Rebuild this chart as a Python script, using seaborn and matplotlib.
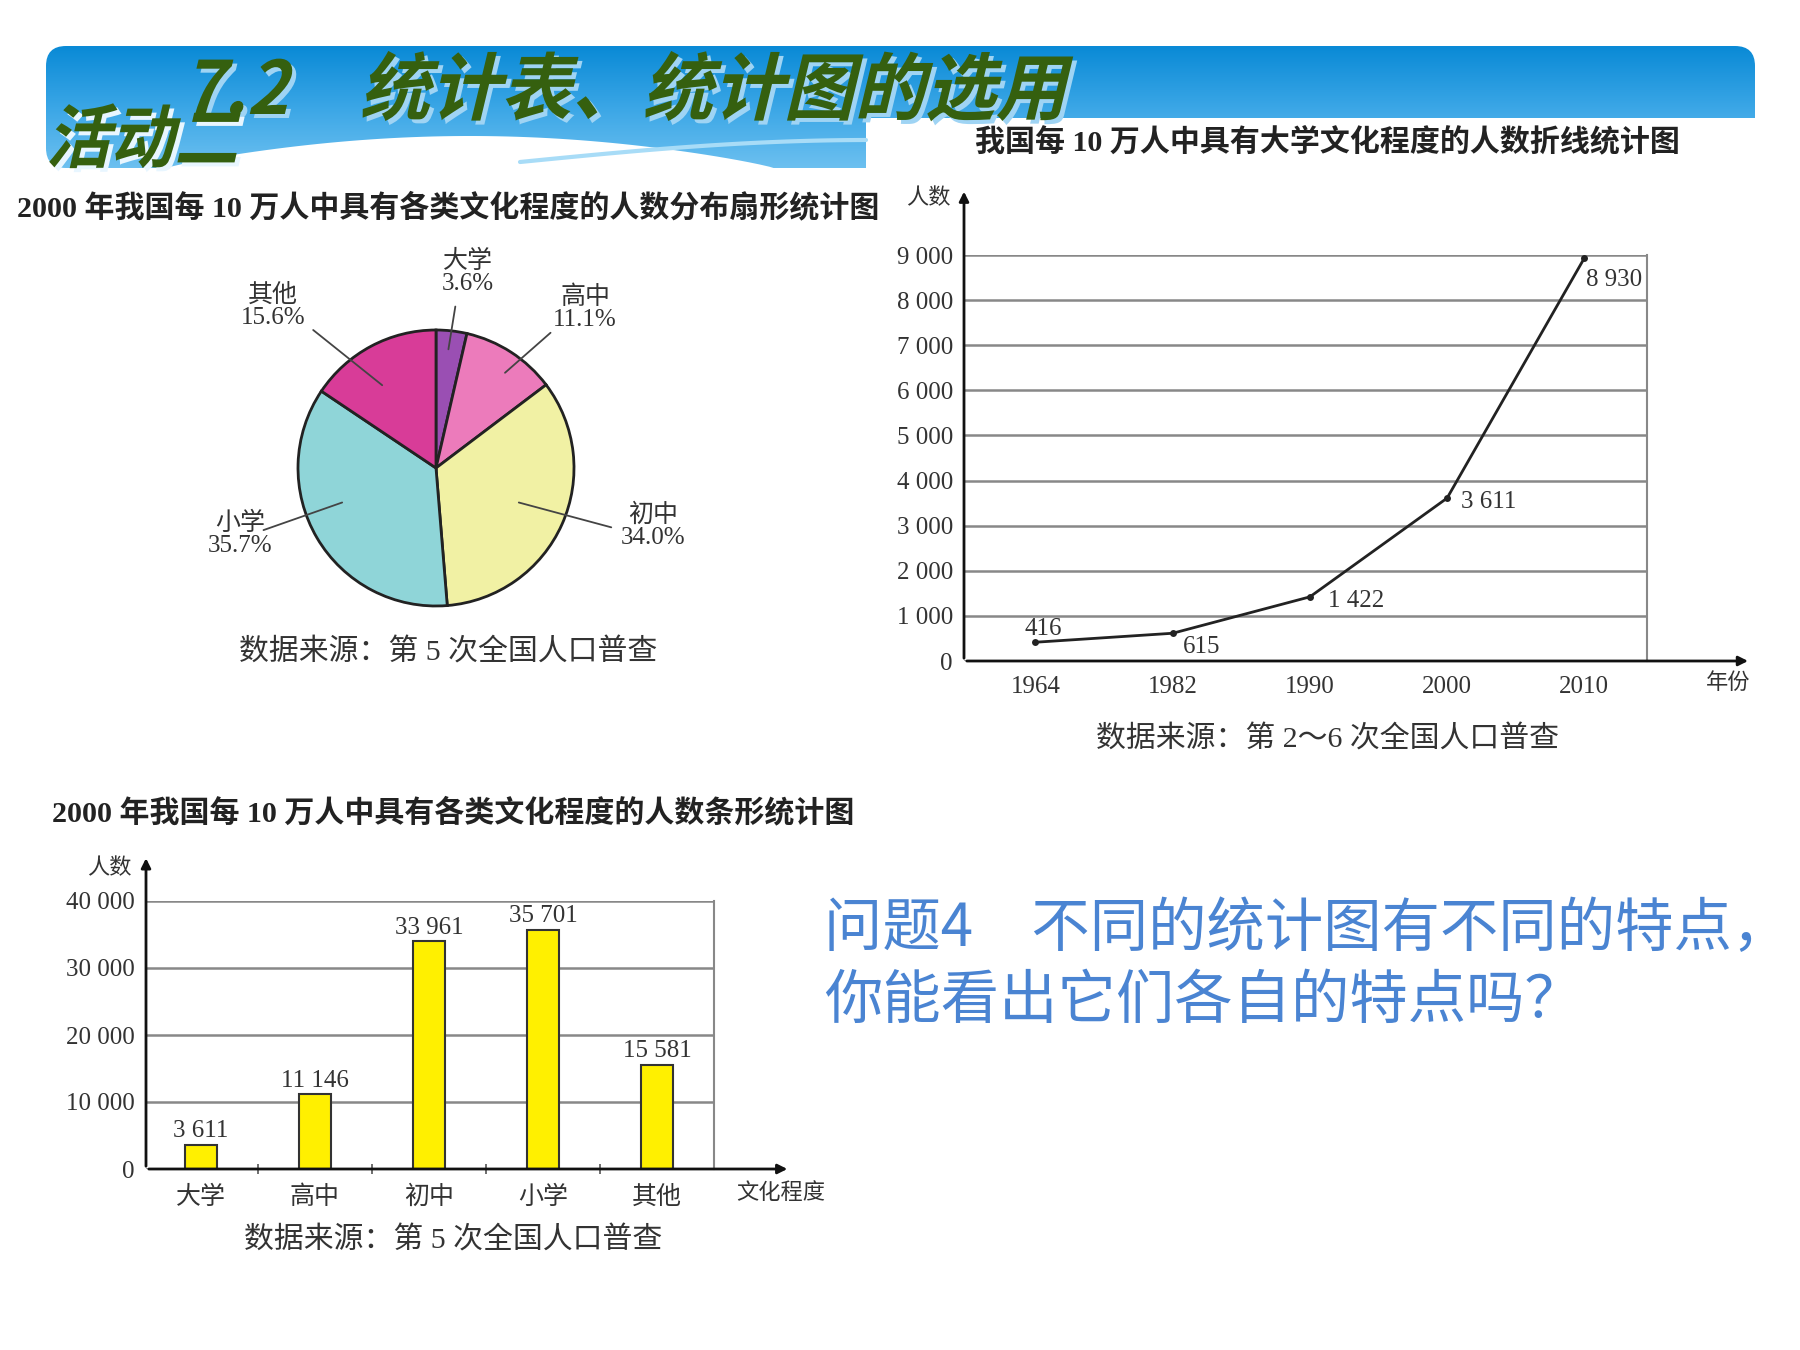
import numpy as np
import matplotlib
matplotlib.use("Agg")
import matplotlib.pyplot as plt
import seaborn as sns
from matplotlib.patches import FancyBboxPatch, Rectangle, Polygon, PathPatch
from matplotlib.textpath import TextPath
from matplotlib.font_manager import FontProperties
from matplotlib.transforms import Affine2D
from matplotlib.ticker import FuncFormatter
from matplotlib.colors import LinearSegmentedColormap

# pie: share of each education level per 100k people, 2000
pie_labels = ["大学", "高中", "初中", "小学", "其他"]
pie_shares = [3.6, 11.1, 34.0, 35.7, 15.6]
pie_colors = ["#9a4fb3", "#ec7bbb", "#f1f1a4", "#8fd5d8", "#d83c98"]

# line: people with university education per 100k, census years
years = ["1964", "1982", "1990", "2000", "2010"]
univ_counts = [416, 615, 1422, 3611, 8930]

# bar: people per 100k by education level, 2000
levels = ["大学", "高中", "初中", "小学", "其他"]
level_counts = [3611, 11146, 33961, 35701, 15581]

W, H = 1800, 1350
SERIF = ["Liberation Serif", "Noto Sans CJK SC"]
CJK = ["Noto Sans CJK SC", "DejaVu Sans"]
INK = "#333333"

sns.set_theme(style="white")
plt.rcParams["font.family"] = SERIF

fig = plt.figure(figsize=(18, 13.5), dpi=100)


def px_axes(left, top, right, bottom):
    return fig.add_axes([left / W, 1 - bottom / H, (right - left) / W, (bottom - top) / H])


def ftext(x, y, s, **kw):
    return fig.text(x / W, 1 - y / H, s, **kw)


def thin(v, pos=None):
    return f"{v:,.0f}".replace(",", " ")


## header band
bg = fig.add_axes([0, 0, 1, 1])
bg.set_xlim(0, W)
bg.set_ylim(H, 0)
bg.axis("off")

band = FancyBboxPatch((46, 46), 1709, 122, boxstyle="round,pad=0,rounding_size=20",
                      facecolor="none", edgecolor="none")
bg.add_patch(band)
cmap = LinearSegmentedColormap.from_list("band", ["#0a8ad6", "#3aa6e6", "#6cc0f0"])
im = bg.imshow(np.linspace(0, 1, 100).reshape(-1, 1), extent=[46, 1755, 168, 46],
               cmap=cmap, aspect="auto")
im.set_clip_path(band)

xs = np.linspace(160, 780, 60)
hill = 170 - 34 * np.sin(np.pi * (xs - 160) / 620) ** 0.8
bg.add_patch(Polygon(np.column_stack([np.r_[xs, 780, 160], np.r_[hill, 170, 170]]),
                     closed=True, facecolor="white", edgecolor="none"))
xs2 = np.linspace(520, 866, 40)
bg.plot(xs2, 162 - 22 * np.sin(np.pi * (xs2 - 520) / 700), color="#a8dcf7", lw=3)
bg.add_patch(Rectangle((866, 118), W - 866, 60, facecolor="white", edgecolor="none"))


def slanted(s, x, y, size, color, shadow=None, sx=1.0):
    fp = FontProperties(family="Noto Sans CJK SC", weight="bold")
    path = TextPath((0, 0), s, size=size, prop=fp)
    if shadow:
        tr = Affine2D().skew_deg(14, 0).scale(sx, -1.08).translate(x + 4, y + 4)
        bg.add_patch(PathPatch(tr.transform_path(path), facecolor=shadow, edgecolor="none"))
    tr = Affine2D().skew_deg(14, 0).scale(sx, -1.08).translate(x, y)
    bg.add_patch(PathPatch(tr.transform_path(path), facecolor=color, edgecolor="none"))


slanted("7.2　统计表、统计图的选用", 182, 114, 68, "#35600f", shadow="#9fd4f4", sx=1.04)
slanted("活动二", 46, 162, 64, "#35600f", shadow="#e8f6ff")

## pie chart
ftext(17, 207, "2000 年我国每 10 万人中具有各类文化程度的人数分布扇形统计图",
      fontsize=21.6, weight="bold", va="center", color="#222")
cx, cy, r = 436, 468, 138
axp = px_axes(cx - 1.8 * r, cy - 1.8 * r, cx + 1.8 * r, cy + 1.8 * r)
axp.pie(pie_shares, colors=pie_colors, startangle=90, counterclock=False, radius=1,
        wedgeprops=dict(edgecolor="#222", linewidth=2))
axp.set_xlim(-1.8, 1.8)
axp.set_ylim(-1.8, 1.8)
axp.set_aspect("equal")
axp.axis("off")

label_pos = [(0.23, 1.42), (1.08, 1.16), (1.57, -0.42), (-1.42, -0.48), (-1.18, 1.17)]
leaders = [((0.14, 1.17), (0.09, 0.86)), ((0.83, 0.98), (0.50, 0.69)),
           ((1.27, -0.43), (0.60, -0.25)), ((-1.25, -0.45), (-0.68, -0.25)),
           ((-0.89, 1.00), (-0.39, 0.60))]
for lab, share, (tx, ty), (p1, p2) in zip(pie_labels, pie_shares, label_pos, leaders):
    axp.text(tx, ty, f"{lab}\n{share:.1f}%", ha="center", va="center", fontsize=18,
             color=INK, linespacing=1.0)
    axp.plot([p1[0], p2[0]], [p1[1], p2[1]], color="#444", lw=1.3)
ftext(448, 653, "数据来源：第 5 次全国人口普查", fontsize=21.5, ha="center", va="center", color=INK)

## line chart
ftext(1327, 142, "我国每 10 万人中具有大学文化程度的人数折线统计图",
      fontsize=21.6, weight="bold", ha="center", va="center", color="#222")
axl = px_axes(964, 255, 1647, 661)
axl.set_facecolor("none")
sns.lineplot(x=years, y=univ_counts, ax=axl, color="#222", lw=2, marker="o",
             markersize=5, markeredgewidth=0)
axl.set_xlim(-0.521, 4.457)
axl.set_ylim(0, 9000)
axl.set_yticks(range(0, 9001, 1000))
axl.yaxis.set_major_formatter(FuncFormatter(thin))
axl.yaxis.grid(True, color="#888", lw=1.8)
axl.set_axisbelow(True)
axl.tick_params(labelsize=18, colors=INK, length=0, pad=8)
axl.tick_params(axis="x", pad=11)
axl.set_xlabel("")
axl.set_ylabel("")
for side in ["left", "bottom", "top"]:
    axl.spines[side].set_visible(False)
axl.spines["right"].set_color("#888")
axl.spines["right"].set_linewidth(1.5)
axl.annotate("", xy=(0, 1.163), xytext=(0, 0), xycoords="axes fraction",
             arrowprops=dict(arrowstyle="-|>", color="#111", lw=2, mutation_scale=14),
             annotation_clip=False)
axl.annotate("", xy=(1.152, 0), xytext=(0, 0), xycoords="axes fraction",
             arrowprops=dict(arrowstyle="-|>", color="#111", lw=2, mutation_scale=14),
             annotation_clip=False)
offsets = [(8, 13, "center"), (10, -14, "left"), (18, -4, "left"), (14, -4, "left"), (2, -22, "left")]
for i, (yr, v) in enumerate(zip(years, univ_counts)):
    dx, dy, ha = offsets[i]
    axl.annotate(thin(v), (i, v), xytext=(dx, dy), textcoords="offset pixels",
                 ha=ha, va="center", fontsize=18, color=INK)
ftext(928, 199, "人数", fontsize=16, ha="center", va="center", color=INK)
ftext(1728, 684, "年份", fontsize=16, ha="center", va="center", color=INK)
ftext(1327, 740, "数据来源：第 2～6 次全国人口普查", fontsize=21.5, ha="center", va="center", color=INK)

## bar chart
ftext(52, 812, "2000 年我国每 10 万人中具有各类文化程度的人数条形统计图",
      fontsize=21.6, weight="bold", va="center", color="#222")
axb = px_axes(146, 901, 714, 1169)
axb.set_facecolor("none")
sns.barplot(x=levels, y=level_counts, ax=axb, color="#fff000", saturation=1, width=0.28,
            edgecolor="#333", linewidth=1.5)
axb.set_xlim(-0.482, 4.5)
axb.set_ylim(0, 40000)
axb.set_yticks(range(0, 40001, 10000))
axb.yaxis.set_major_formatter(FuncFormatter(thin))
axb.yaxis.grid(True, color="#888", lw=1.8)
axb.set_axisbelow(True)
axb.set_xticks(np.arange(0.5, 4, 1), minor=True)
axb.tick_params(labelsize=18, colors=INK, length=0, pad=8)
axb.tick_params(axis="x", pad=12)
axb.tick_params(axis="x", which="minor", bottom=True, length=7, width=1.2,
                direction="inout", color="#555")
axb.set_xlabel("")
axb.set_ylabel("")
for side in ["left", "bottom", "top"]:
    axb.spines[side].set_visible(False)
axb.spines["right"].set_color("#888")
axb.spines["right"].set_linewidth(1.5)
axb.annotate("", xy=(0, 1.17), xytext=(0, 0), xycoords="axes fraction",
             arrowprops=dict(arrowstyle="-|>", color="#111", lw=2, mutation_scale=14),
             annotation_clip=False)
axb.annotate("", xy=(1.134, 0), xytext=(0, 0), xycoords="axes fraction",
             arrowprops=dict(arrowstyle="-|>", color="#111", lw=2, mutation_scale=14),
             annotation_clip=False)
axb.bar_label(axb.containers[0], labels=[thin(v) for v in level_counts], padding=2,
              fontsize=18, color=INK)
ftext(109, 869, "人数", fontsize=16, ha="center", va="center", color=INK)
ftext(781, 1194, "文化程度", fontsize=16, ha="center", va="center", color=INK)
ftext(453, 1241, "数据来源：第 5 次全国人口普查", fontsize=21.5, ha="center", va="center", color=INK)

## question text
ftext(824, 930, "问题4　不同的统计图有不同的特点，", fontsize=42, family=CJK,
      va="center", color="#4a84d2")
ftext(824, 1001, "你能看出它们各自的特点吗？", fontsize=42, family=CJK,
      va="center", color="#4a84d2")

fig.savefig("out.png", dpi=100)
